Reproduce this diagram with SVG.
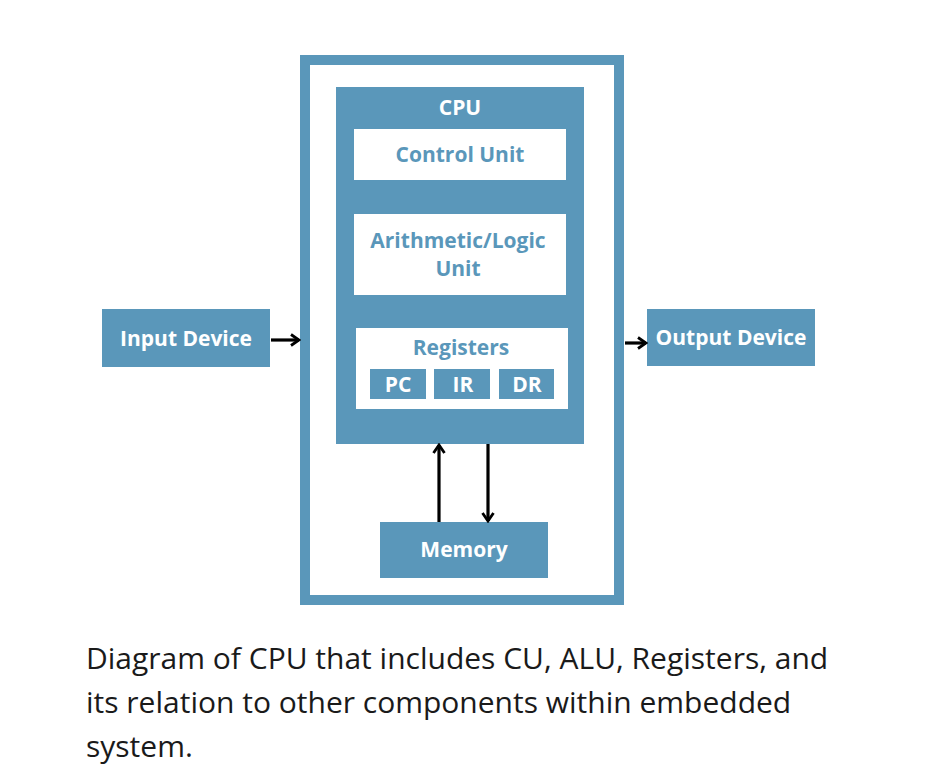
<svg xmlns="http://www.w3.org/2000/svg" width="948" height="768" viewBox="0 0 948 768">
<defs>
<marker id="arr" viewBox="0 0 14 14" refX="12" refY="7" markerWidth="14" markerHeight="14" markerUnits="userSpaceOnUse" orient="auto">
<polyline points="4,1.5 12,7 4,12.5" fill="none" stroke="#000" stroke-width="2.8"/>
</marker>
<style>
.blue{fill:#5a97ba}
.white{fill:#fff}
.lb{font-family:"Open Sans","Noto Sans",sans-serif;font-weight:bold;font-size:21px;text-anchor:middle}
.tw{fill:#fff}
.tb{fill:#5a97ba}
.cap{font-family:"Open Sans","Noto Sans",sans-serif;font-size:30px;fill:#1a1a1a}
.con{stroke:#000;stroke-width:3.2;fill:none;marker-end:url(#arr)}
</style>
</defs>
<rect width="948" height="768" fill="#fff"/>
<g id="system">
<rect x="305" y="60" width="314" height="540" fill="none" stroke="#5a97ba" stroke-width="10"/>
</g>
<g id="cpu">
<rect class="blue" x="336" y="87" width="248" height="357"/>
<text class="lb tw" x="460" y="115" font-size="24">CPU</text>
</g>
<g id="control-unit">
<rect class="white" x="354" y="129" width="212" height="51"/>
<text class="lb tb" x="460" y="162">Control Unit</text>
</g>
<g id="alu">
<rect class="white" x="354" y="214" width="212" height="81"/>
<text class="lb tb" x="458" y="248">Arithmetic/Logic</text>
<text class="lb tb" x="458" y="276">Unit</text>
</g>
<g id="registers">
<rect class="white" x="356" y="328" width="212" height="81"/>
<text class="lb tb" x="461" y="355">Registers</text>
</g>
<g id="pc">
<rect class="blue" x="370" y="369" width="56" height="30"/>
<text class="lb tw" x="398" y="392" font-size="20">PC</text>
</g>
<g id="ir">
<rect class="blue" x="434" y="369" width="56" height="30"/>
<text class="lb tw" x="463" y="392" font-size="20">IR</text>
</g>
<g id="dr">
<rect class="blue" x="499" y="369" width="55" height="30"/>
<text class="lb tw" x="527" y="392" font-size="20">DR</text>
</g>
<g id="input-device">
<rect class="blue" x="102" y="309" width="168" height="58"/>
<text class="lb tw" x="186" y="346">Input Device</text>
</g>
<g id="output-device">
<rect class="blue" x="647" y="309" width="168" height="57"/>
<text class="lb tw" x="731" y="345">Output Device</text>
</g>
<g id="memory">
<rect class="blue" x="380" y="522" width="168" height="56"/>
<text class="lb tw" x="464" y="557">Memory</text>
</g>
<g id="connectors">
<line class="con" x1="271" y1="340" x2="299" y2="340"/>
<line class="con" x1="625" y1="343" x2="646" y2="343"/>
<line class="con" x1="439" y1="522" x2="439" y2="445"/>
<line class="con" x1="488" y1="444" x2="488" y2="521"/>
</g>
<g id="caption">
<text class="cap" x="86" y="669">Diagram of CPU that includes CU, ALU, Registers, and</text>
<text class="cap" x="86" y="713">its relation to other components within embedded</text>
<text class="cap" x="86" y="757">system.</text>
</g>
</svg>
